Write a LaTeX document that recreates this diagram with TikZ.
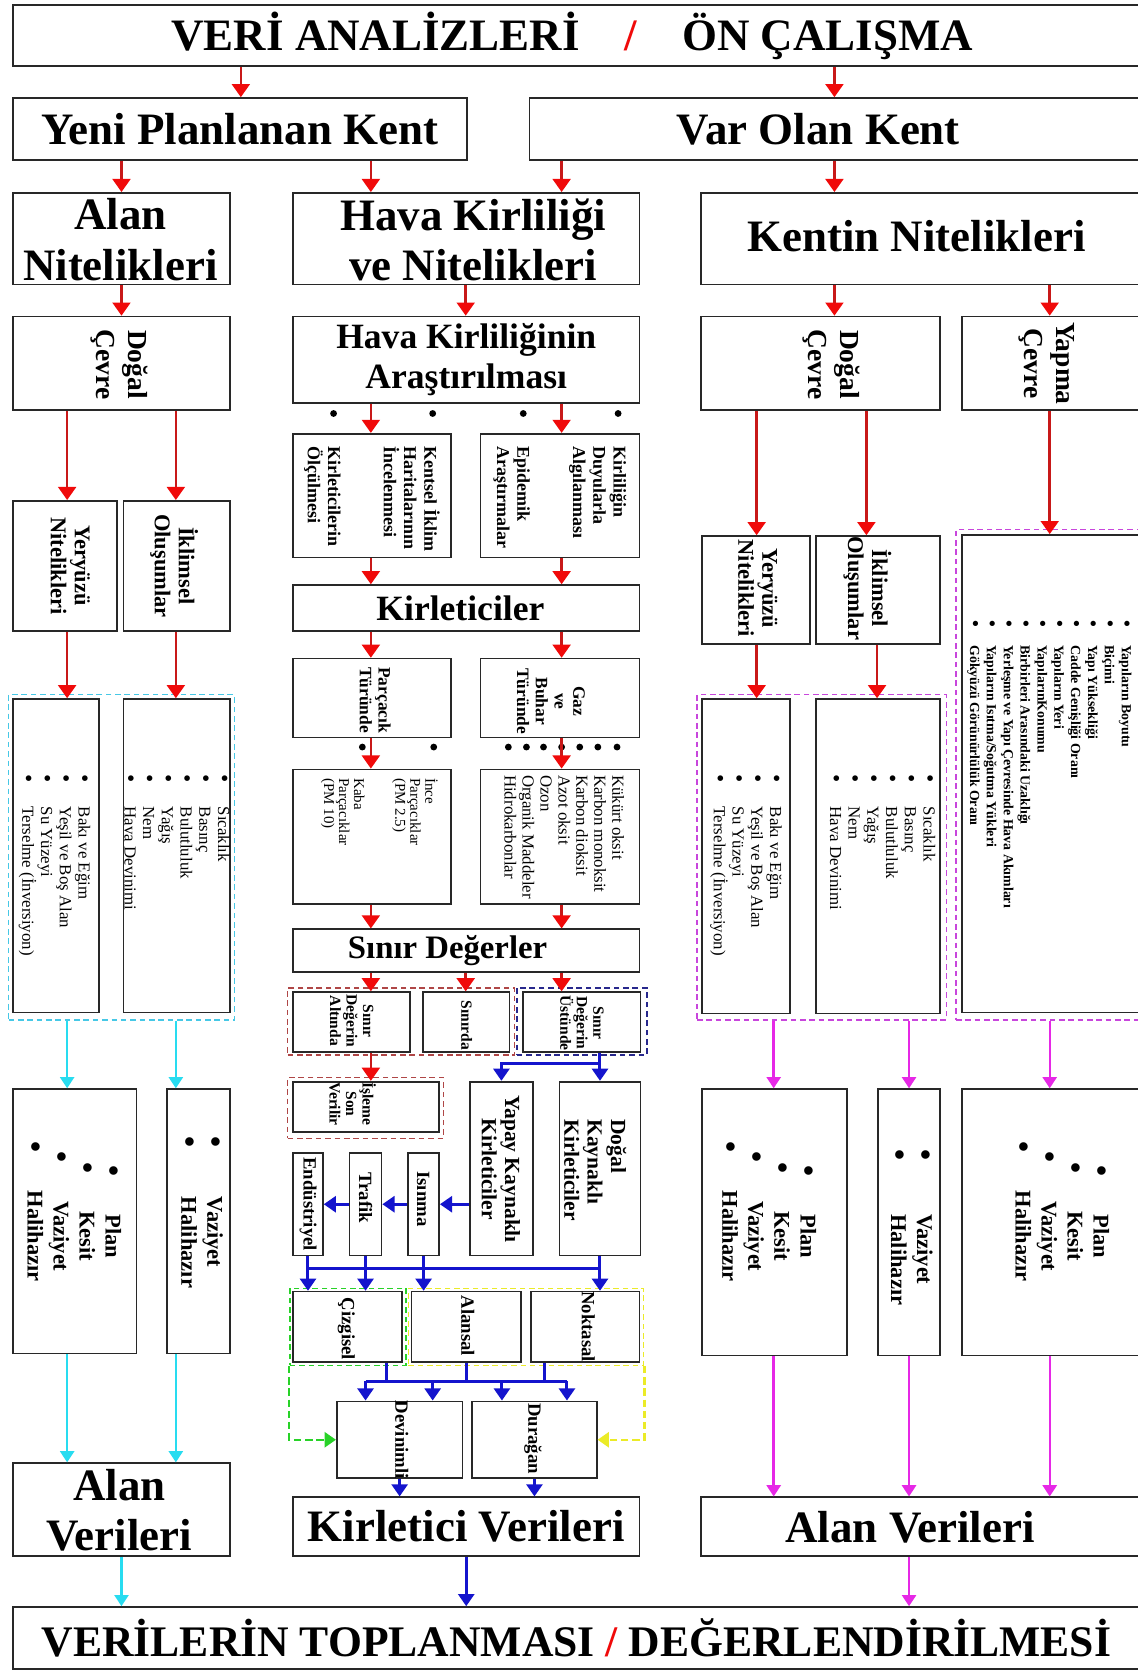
\documentclass[tikz,border=0pt]{standalone}
\usepackage{fontspec}
\usepackage{graphicx}
\setmainfont{Liberation Serif}
\usetikzlibrary{fit,arrows.meta}

\definecolor{boxgray}{RGB}{40,40,40}
\definecolor{redln}{RGB}{200,25,25}
\definecolor{redhd}{RGB}{240,10,10}
\definecolor{cyanln}{RGB}{40,220,240}
\definecolor{magln}{RGB}{230,40,230}
\definecolor{blueln}{RGB}{20,20,205}
\definecolor{greenln}{RGB}{40,210,40}
\definecolor{yellowln}{RGB}{235,235,40}
\definecolor{grpred}{RGB}{175,70,70}
\definecolor{grpnavy}{RGB}{40,40,140}
\definecolor{grpcyan}{RGB}{70,200,230}
\definecolor{grpmag}{RGB}{200,70,220}

\newcommand{\bul}{\raisebox{-0.08em}{\scalebox{1.4}{\textbullet}}}
\newcommand{\li}[2][1.45em]{\bul\hspace{#1}#2}

\begin{document}
\begin{tikzpicture}[x=0.02cm, y=-0.02cm,
    box/.style={draw=boxgray, line width=0.9pt, inner sep=0pt},
    grp/.style={draw=#1, line width=0.7pt, dash pattern=on 3pt off 2pt, inner sep=0pt},
    big/.style={font=\fontsize{24}{27}\selectfont\bfseries, align=center},
    med/.style={font=\fontsize{19}{21.5}\selectfont\bfseries, align=center},
    vt/.style={rotate=-90, inner sep=0pt, align=center},
    vmid/.style={vt, font=\fontsize{14.7}{17}\selectfont\bfseries},
    vsub/.style={vt, font=\fontsize{12}{12.8}\selectfont\bfseries},
    vkay/.style={vt, font=\fontsize{11.5}{12.5}\selectfont\bfseries},
    vsm/.style={vt, font=\fontsize{9.6}{10.8}\selectfont\bfseries},
    vtur/.style={vt, font=\fontsize{9.3}{10}\selectfont\bfseries},
    vsrc/.style={vt, font=\fontsize{10}{11}\selectfont\bfseries},
    vtiny/.style={vt, font=\fontsize{8.3}{8.8}\selectfont\bfseries},
    vlist/.style={vt, align=left, font=\fontsize{9}{10}\selectfont},
    vgaz/.style={vt, align=left, font=\fontsize{9}{9.6}\selectfont},
    vpm/.style={vt, align=left, font=\fontsize{8}{8}\selectfont},
    vyap/.style={vt, align=left, font=\fontsize{7.4}{9}\selectfont\bfseries},
    vplan/.style={vt, font=\fontsize{12}{13.9}\selectfont\bfseries},
    rarr/.style={draw=redln, line width=1.4pt, -{Triangle[width=9.5pt,length=7pt,color=redhd]}},
    carr/.style={draw=cyanln, line width=1.3pt, -{Triangle[width=7.5pt,length=6pt]}},
    marr/.style={draw=magln, line width=1.3pt, -{Triangle[width=7.5pt,length=6pt]}},
    barr/.style={draw=blueln, line width=1.6pt, -{Triangle[width=8.5pt,length=6.5pt]}},
    bln/.style={draw=blueln, line width=1.6pt},
    garr/.style={draw=greenln, line width=1.3pt, dash pattern=on 4pt off 2pt, -{Triangle[width=8pt,length=6pt]}},
    yarr/.style={draw=yellowln, line width=1.3pt, dash pattern=on 4pt off 2pt, -{Triangle[width=8pt,length=6pt]}}
  ]
  \useasboundingbox[fill=white] (0,0) rectangle (1067,1568);

  % Lanes for the vertical connectors
  \coordinate (laneA) at (63,0);
  \coordinate (laneB) at (114,0);
  \coordinate (laneC) at (165,0);
  \coordinate (laneT) at (226,0);
  \coordinate (laneD) at (348,0);
  \coordinate (laneE) at (437,0);
  \coordinate (laneF) at (527,0);
  \coordinate (laneV) at (783,0);
  \coordinate (laneG) at (710,0);
  \coordinate (laneH) at (813,0);
  \coordinate (laneH2) at (823,0);
  \coordinate (laneJ) at (726,0);
  \coordinate (laneK) at (853,0);
  \coordinate (laneI) at (985,0);
  \coordinate (laneQ) at (363,0);
  \coordinate (laneN) at (511,0);
  \coordinate (laneD1) at (343,0);
  \coordinate (laneD2) at (406,0);
  \coordinate (laneD3) at (471,0);
  \coordinate (laneD4) at (532,0);
  \coordinate (busA) at (0,1190);
  \coordinate (busB) at (0,1296);

  % Top rows
  \node[box, fit={(12,5) (1072,62)}] (title) {};
  \node[big] (titleT) at (537,34) {VERİ ANALİZLERİ\quad{\color{redhd}/}\quad ÖN ÇALIŞMA};
  \node[box, fit={(12,92) (438,150)}] (yeni) {};
  \node[big] (yeniT) at (yeni) {Yeni Planlanan Kent};
  \node[box, fit={(497,92) (1072,150)}] (varolan) {};
  \node[big] (varolanT) at (768,121) {Var Olan Kent};

  \node[box, fit={(12,181) (216,267)}] (alan) {};
  \node[big] (alanT) at (113,225) {Alan\\Nitelikleri};
  \node[box, fit={(275,181) (600,267)}] (hava) {};
  \node[big] (havaT) at (444,225) {Hava Kirliliği\\ve Nitelikleri};
  \node[box, fit={(658,181) (1072,267)}] (kentin) {};
  \node[big] (kentinT) at (860,222) {Kentin Nitelikleri};

  \node[box, fit={(12,297) (216,385)}] (dogalL) {};
  \node[vmid] (dogalLT) at (112,342) {Doğal\\Çevre};
  \node[box, fit={(275,297) (600,378)}] (hka) {};
  \node[med] (hkaT) at (hka) {Hava Kirliliğinin\\Araştırılması};
  \node[box, fit={(658,297) (882,385)}] (dogalR) {};
  \node[vmid] (dogalRT) at (780,342) {Doğal\\Çevre};
  \node[box, fit={(903,297) (1072,385)}] (yapma) {};
  \node[vmid] (yapmaT) at (982,341) {Yapma\\Çevre};

  % Left column
  \node[box, fit={(12,470) (110,592)}] (yerL) {};
  \node[vsub] (yerLT) at (66,531) {Yeryüzü\\Nitelikleri};
  \node[box, fit={(116,470) (216,592)}] (iklL) {};
  \node[vsub] (iklLT) at (163.5,531) {İklimsel\\Oluşumlar};
  \node[grp=grpcyan, fit={(8,652) (220,957)}] (grpC) {};
  \node[box, fit={(12,656) (93,950)}] (lstL1) {};
  \node[vlist, anchor=north west] (lstL1T) at (85,726)
    {\li{Bakı ve Eğim}\\\li{Yeşil ve Boş Alan}\\\li{Su Yüzeyi}\\\li{Terselme (İnversiyon)}};
  \node[box, fit={(116,656) (216,950)}] (lstL2) {};
  \node[vlist, anchor=north west] (lstL2T) at (216,726)
    {\li{Sıcaklık}\\\li{Basınç}\\\li{Bulutluluk}\\\li{Yağış}\\\li{Nem}\\\li{Hava Devinimi}};
  \node[box, fit={(12,1022) (128,1270)}] (planL) {};
  \node[vplan] (planLT) at (69,1137)
    {\li[1.7em]{Plan}\\\li[1.7em]{Kesit}\\\li[1.7em]{Vaziyet}\\\li[1.7em]{Halihazır}};
  \node[box, fit={(157,1022) (216,1270)}] (vazL) {};
  \node[vplan, align=left, anchor=north west] (vazLT) at (209.5,1066)
    {\li[2.2em]{Vaziyet}\\\li[2.2em]{Halihazır}};
  \node[box, fit={(12,1373) (216,1460)}] (alanvL) {};
  \node[big] (alanvLT) at (112,1417) {Alan\\Verileri};

  % Middle column
  \node[box, fit={(275,407) (423,523)}] (kentsel) {};
  \node[vsm, align=left, anchor=north west] (kentselT) at (413,419)
    {Kentsel İklim\\Haritalarının\\İncelenmesi\\[19pt]Kirleticilerin\\Ölçülmesi};
  \node[box, fit={(451,407) (600,523)}] (kirlilik) {};
  \node[vsm, align=left, anchor=north west] (kirlilikT) at (588,419)
    {Kirliliğin\\Duyularla\\Algılanması\\[19pt]Epidemik\\Araştırmalar};
  \foreach \x in {313,406,491,580} \fill (\x,388) circle (3.2);

  \node[box, fit={(275,549) (600,592)}] (kirl) {};
  \node[med] (kirlT) at (432,571) {Kirleticiler};
  \node[box, fit={(275,618) (423,692)}] (parc) {};
  \node[vtur] (parcT) at (352,657) {Parçacık\\Türünde};
  \node[box, fit={(451,618) (600,692)}] (gaz) {};
  \node[vtur] (gazT) at (517,658) {Gaz\\ve\\Buhar\\Türünde};
  \foreach \x in {340,407} \fill (\x,701) circle (3.2);
  \foreach \x in {477,494,510,527,544,561,579} \fill (\x,701) circle (3.2);

  \node[box, fit={(275,722) (423,848)}] (parcL) {};
  \node[vpm, anchor=north west] (parcLT) at (411,730)
    {İnce\\Parçacıklar\\(PM 2.5)\\[14pt]Kaba\\Parçacıklar\\(PM 10)};
  \node[box, fit={(451,722) (600,848)}] (gazL) {};
  \node[vgaz, anchor=north west] (gazLT) at (586,727)
    {Kükürt oksit\\Karbon monoksit\\Karbon dioksit\\Azot oksit\\Ozon\\Organik Maddeler\\Hidrokarbonlar};

  \node[box, fit={(275,872) (600,912)}] (sinir) {};
  \node[font=\fontsize{17.5}{20}\selectfont\bfseries] (sinirT) at (420,892) {Sınır Değerler};

  \node[grp=grpred, fit={(270,927) (483,990)}] (grpR) {};
  \node[grp=grpnavy, fit={(485,927) (607,990)}] (grpB) {};
  \node[box, fit={(275,931) (385,987)}] (altinda) {};
  \node[vtiny] (altindaT) at (330,958) {Sınır\\Değerin\\Altında};
  \node[box, fit={(397,931) (478,987)}] (sinirda) {};
  \node[vtiny] (sinirdaT) at (438,962) {Sınırda};
  \node[box, fit={(491,931) (601,987)}] (ustunde) {};
  \node[vtiny] (ustundeT) at (546,960) {Sınır\\Değerin\\Üstünde};

  \node[grp=grpred, fit={(270,1011) (416,1068)}] (grpI) {};
  \node[box, fit={(275,1015) (412,1062)}] (isleme) {};
  \node[vtiny] (islemeT) at (331,1036) {İşleme\\Son\\Verilir};

  \node[box, fit={(441,1015) (500,1178)}] (yapay) {};
  \node[vkay] (yapayT) at (470,1097) {Yapay Kaynaklı\\Kirleticiler};
  \node[box, fit={(525,1015) (601,1178)}] (dogalK) {};
  \node[vkay, align=left, anchor=north west] (dogalKT) at (588,1050) {Doğal\\Kaynaklı\\Kirleticiler};

  \node[box, fit={(275,1082) (303,1178)}] (endus) {};
  \node[vsrc] (endusT) at (289,1130) {Endüstriyel};
  \node[box, fit={(328,1082) (358,1178)}] (trafik) {};
  \node[vsrc] (trafikT) at (343,1124) {Trafik};
  \node[box, fit={(383,1082) (412,1178)}] (isinma) {};
  \node[vsrc] (isinmaT) at (397,1125) {Isınma};

  \node[grp=greenln, fit={(272,1209) (381,1281)}] (grpG) {};
  \node[grp=yellowln, fit={(383,1209) (604,1281)}] (grpY) {};
  \node[box, fit={(275,1212) (377,1278)}] (cizgi) {};
  \node[vsrc] (cizgiT) at (325,1247) {Çizgisel};
  \node[box, fit={(386,1212) (489,1278)}] (alansal) {};
  \node[vsrc] (alansalT) at (439,1244) {Alansal};
  \node[box, fit={(498,1212) (600,1278)}] (noktasal) {};
  \node[vsrc] (noktasalT) at (552,1245) {Noktasal};

  \node[box, fit={(316,1315) (434,1387)}] (devin) {};
  \node[vsrc] (devinT) at (377,1351) {Devinimli};
  \node[box, fit={(443,1315) (560,1387)}] (duragan) {};
  \node[vsrc] (duraganT) at (500,1350) {Durağan};

  \node[box, fit={(275,1405) (600,1460)}] (kirlv) {};
  \node[big] (kirlvT) at (kirlv) {Kirletici Verileri};

  % Right column
  \node[box, fit={(659,503) (760,604)}] (yerR) {};
  \node[vsub] (yerRT) at (711,552) {Yeryüzü\\Nitelikleri};
  \node[box, fit={(766,503) (882,604)}] (iklR) {};
  \node[vsub] (iklRT) at (814,552) {İklimsel\\Oluşumlar};
  \node[grp=grpmag, fit={(654,652) (888,957)}] (grpM) {};
  \node[box, fit={(659,656) (741,951)}] (lstR1) {};
  \node[vlist, anchor=north west] (lstR1T) at (734,726)
    {\li{Bakı ve Eğim}\\\li{Yeşil ve Boş Alan}\\\li{Su Yüzeyi}\\\li{Terselme (İnversiyon)}};
  \node[box, fit={(766,656) (882,951)}] (lstR2) {};
  \node[vlist, anchor=north west] (lstR2T) at (878,726)
    {\li{Sıcaklık}\\\li{Basınç}\\\li{Bulutluluk}\\\li{Yağış}\\\li{Nem}\\\li{Hava Devinimi}};
  \node[grp=grpmag, fit={(897,497) (1075,957)}] (grpM2) {};
  \node[box, fit={(903,502) (1072,950)}] (yapmaL) {};
  \node[vyap, anchor=north west] (yapmaLT) at (1062,582)
    {\li[1.3em]{Yapıların Boyutu}\\\li[1.3em]{Biçimi}\\\li[1.3em]{Yapı Yüksekliği}\\\li[1.3em]{Cadde Genişliği Oranı}\\
     \li[1.3em]{Yapıların Yeri}\\\li[1.3em]{YapılarınKonumu}\\\li[1.3em]{Birbirleri Arasındaki Uzaklığı}\\
     \li[1.3em]{Yerleşme ve Yapı Çevresinde Hava Akımları}\\\li[1.3em]{Yapıların Isıtma/Soğutma Yükleri}\\
     \li[1.3em]{Gökyüzü Görünürlülük Oranı}};

  \node[box, fit={(659,1022) (795,1272)}] (planR1) {};
  \node[vplan] (planR1T) at (721,1137)
    {\li[1.7em]{Plan}\\\li[1.7em]{Kesit}\\\li[1.7em]{Vaziyet}\\\li[1.7em]{Halihazır}};
  \node[box, fit={(824,1022) (882,1272)}] (vazR) {};
  \node[vplan, align=left, anchor=north west] (vazRT) at (875.5,1078)
    {\li[2.4em]{Vaziyet}\\\li[2.4em]{Halihazır}};
  \node[box, fit={(903,1022) (1072,1272)}] (planR3) {};
  \node[vplan] (planR3T) at (996,1137)
    {\li[1.7em]{Plan}\\\li[1.7em]{Kesit}\\\li[1.7em]{Vaziyet}\\\li[1.7em]{Halihazır}};
  \node[box, fit={(658,1405) (1072,1460)}] (alanvR) {};
  \node[big] (alanvRT) at (854,1433) {Alan Verileri};

  % Bottom
  \node[box, fit={(12,1508) (1072,1566)}] (bottom) {};
  \node[font=\fontsize{23.3}{26}\selectfont\bfseries] (bottomT) at (541,1537)
    {VERİLERİN TOPLANMASI {\color{redhd}/} DEĞERLENDİRİLMESİ};

  % Red connectors
  \draw[rarr] (title.south -| laneT) -- (yeni.north -| laneT);
  \draw[rarr] (title.south -| laneV) -- (varolan.north -| laneV);
  \draw[rarr] (yeni.south -| laneB) -- (alan.north -| laneB);
  \draw[rarr] (yeni.south -| laneD) -- (hava.north -| laneD);
  \draw[rarr] (varolan.south -| laneF) -- (hava.north -| laneF);
  \draw[rarr] (varolan.south -| laneV) -- (kentin.north -| laneV);
  \draw[rarr] (alan.south -| laneB) -- (dogalL.north -| laneB);
  \draw[rarr] (hava.south -| laneE) -- (hka.north -| laneE);
  \draw[rarr] (kentin.south -| laneV) -- (dogalR.north -| laneV);
  \draw[rarr] (kentin.south -| laneI) -- (yapma.north -| laneI);
  \draw[rarr] (dogalL.south -| laneA) -- (yerL.north -| laneA);
  \draw[rarr] (dogalL.south -| laneC) -- (iklL.north -| laneC);
  \draw[rarr] (yerL.south -| laneA) -- (lstL1.north -| laneA);
  \draw[rarr] (iklL.south -| laneC) -- (lstL2.north -| laneC);
  \draw[rarr] (hka.south -| laneD) -- (kentsel.north -| laneD);
  \draw[rarr] (hka.south -| laneF) -- (kirlilik.north -| laneF);
  \draw[rarr] (kentsel.south -| laneD) -- (kirl.north -| laneD);
  \draw[rarr] (kirlilik.south -| laneF) -- (kirl.north -| laneF);
  \draw[rarr] (kirl.south -| laneD) -- (parc.north -| laneD);
  \draw[rarr] (kirl.south -| laneF) -- (gaz.north -| laneF);
  \draw[rarr] (parc.south -| laneD) -- (parcL.north -| laneD);
  \draw[rarr] (gaz.south -| laneF) -- (gazL.north -| laneF);
  \draw[rarr] (parcL.south -| laneD) -- (sinir.north -| laneD);
  \draw[rarr] (gazL.south -| laneF) -- (sinir.north -| laneF);
  \draw[rarr] (sinir.south -| laneD) -- (altinda.north -| laneD);
  \draw[rarr] (sinir.south -| laneE) -- (sinirda.north -| laneE);
  \draw[rarr] (sinir.south -| laneF) -- (ustunde.north -| laneF);
  \draw[rarr] (altinda.south -| laneD) -- (isleme.north -| laneD);
  \draw[rarr] (dogalR.south -| laneG) -- (yerR.north -| laneG);
  \draw[rarr] (dogalR.south -| laneH) -- (iklR.north -| laneH);
  \draw[rarr] (yerR.south -| laneG) -- (lstR1.north -| laneG);
  \draw[rarr] (iklR.south -| laneH2) -- (lstR2.north -| laneH2);
  \draw[rarr] (yapma.south -| laneI) -- (yapmaL.north -| laneI);

  % Cyan connectors
  \draw[carr] (grpC.south -| laneA) -- (planL.north -| laneA);
  \draw[carr] (grpC.south -| laneC) -- (vazL.north -| laneC);
  \draw[carr] (planL.south -| laneA) -- (alanvL.north -| laneA);
  \draw[carr] (vazL.south -| laneC) -- (alanvL.north -| laneC);
  \draw[carr] (alanvL.south -| laneB) -- (bottom.north -| laneB);

  % Magenta connectors
  \draw[marr] (grpM.south -| laneJ) -- (planR1.north -| laneJ);
  \draw[marr] (grpM.south -| laneK) -- (vazR.north -| laneK);
  \draw[marr] (grpM2.south -| laneI) -- (planR3.north -| laneI);
  \draw[marr] (planR1.south -| laneJ) -- (alanvR.north -| laneJ);
  \draw[marr] (vazR.south -| laneK) -- (alanvR.north -| laneK);
  \draw[marr] (planR3.south -| laneI) -- (alanvR.north -| laneI);
  \draw[marr] (alanvR.south -| laneK) -- (bottom.north -| laneK);

  % Blue connectors
  \draw[barr] (ustunde.south -| dogalK.north) -- (dogalK.north);
  \draw[barr] (ustunde.south -| dogalK.north) -- ++(0,10) -| (yapay.north);
  \draw[barr] (yapay.west |- isinma.east) -- (isinma.east);
  \draw[barr] (isinma.west) -- (trafik.east);
  \draw[barr] (trafik.west) -- (endus.east);
  \draw[bln] (endus.south |- busA) -- (dogalK.south |- busA);
  \draw[barr] (endus.south) -- (cizgi.north -| endus.south);
  \draw[barr] (trafik.south) -- (cizgi.north -| trafik.south);
  \draw[barr] (isinma.south) -- (alansal.north -| isinma.south);
  \draw[barr] (dogalK.south) -- (noktasal.north -| dogalK.south);
  \draw[bln] (cizgi.south -| laneQ) -- (busB -| laneQ);
  \draw[bln] (alansal.south) -- (busB -| alansal.south);
  \draw[bln] (noktasal.south -| laneN) -- (busB -| laneN);
  \draw[bln] (busB -| laneD1) -- (busB -| laneD4);
  \draw[barr] (busB -| laneD1) -- (devin.north -| laneD1);
  \draw[barr] (busB -| laneD2) -- (devin.north -| laneD2);
  \draw[barr] (busB -| laneD3) -- (duragan.north -| laneD3);
  \draw[barr] (busB -| laneD4) -- (duragan.north -| laneD4);
  \draw[garr] (grpG.south west) |- (devin.west);
  \draw[yarr] (grpY.south east) |- (duragan.east);
  \draw[barr] (devin.south) -- (kirlv.north -| devin.south);
  \draw[barr] (duragan.south) -- (kirlv.north -| duragan.south);
  \draw[barr] (kirlv.south) -- (bottom.north -| kirlv.south);
\end{tikzpicture}
\end{document}
